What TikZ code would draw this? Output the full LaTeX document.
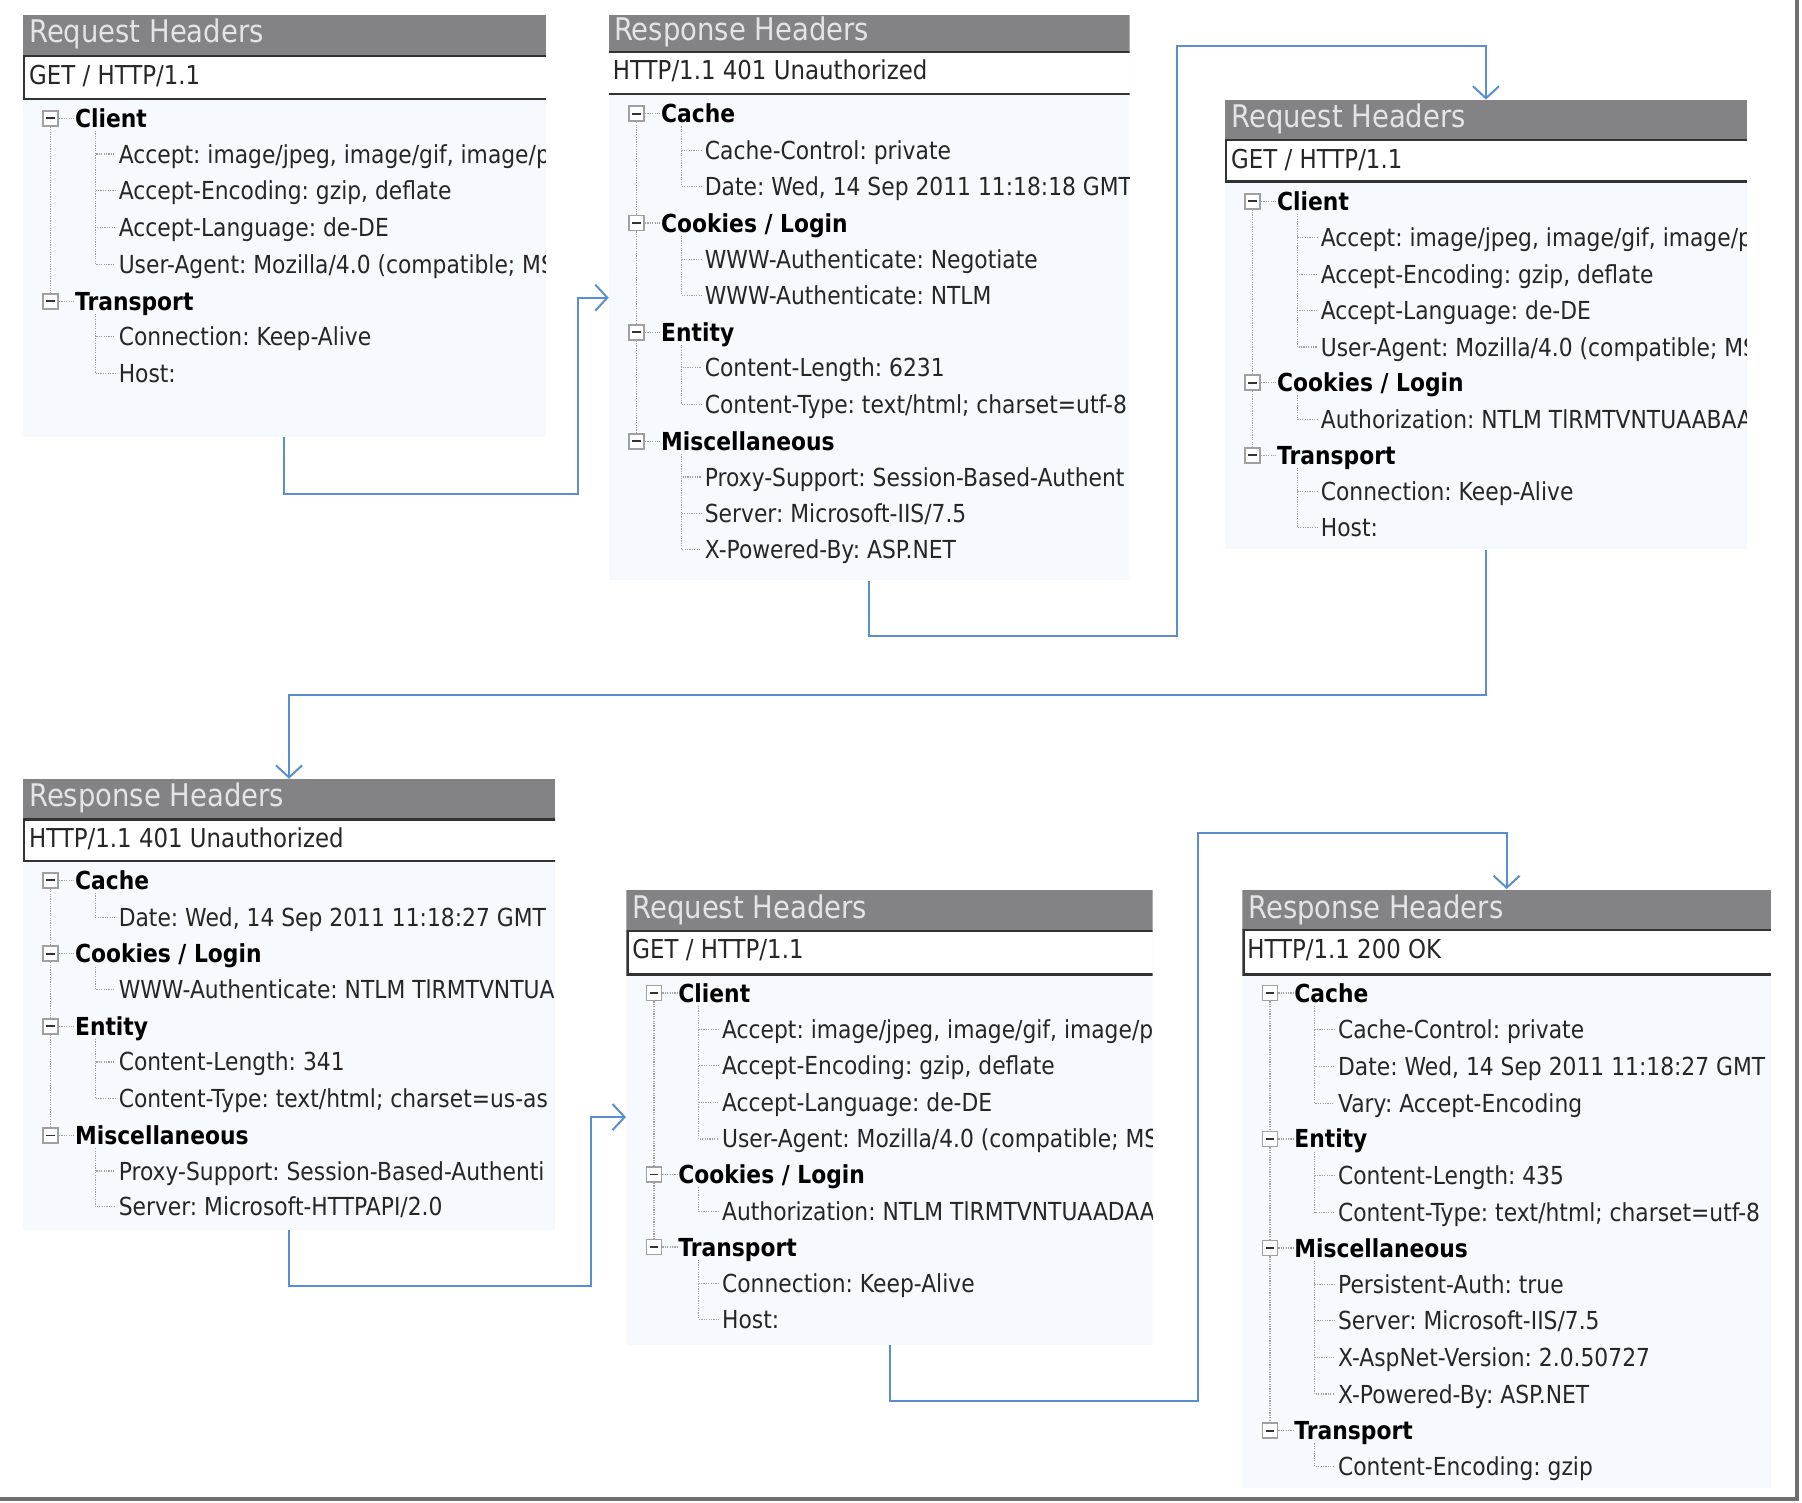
\documentclass[tikz,border=0pt]{standalone}
\usepackage{fontspec}
\setmainfont{DejaVu Sans}[FakeStretch=0.88]
\usepackage{tikz}
\usetikzlibrary{arrows.meta, fit}
\definecolor{panelbg}{HTML}{F6F9FD}
\definecolor{titlegray}{HTML}{838285}
\definecolor{titletext}{HTML}{E4E4E4}
\definecolor{treegray}{HTML}{A0A0A0}
\definecolor{flowblue}{HTML}{5A8ED3}
\definecolor{framegray}{HTML}{6E6E6E}
\frenchspacing

\tikzset{
  panelbody/.style={fill=panelbg, inner sep=0pt},
  titlebar/.style={fill=titlegray, inner sep=0pt},
  titlelabel/.style={anchor=mid west, inner sep=0pt, yshift=-1.2pt, text=titletext, font=\fontsize{15.6}{18}\selectfont},
  linebox/.style={fill=white, draw=black!80, line width=1.1pt, inner sep=0pt},
  linelabel/.style={anchor=mid west, inner sep=0pt, yshift=-1.5pt, text=black!85, font=\fontsize{13}{15}\selectfont},
  grplabel/.style={anchor=mid west, inner sep=0pt, yshift=-1.8pt, font=\fontsize{12.4}{15}\selectfont\bfseries},
  itemlabel/.style={anchor=mid west, inner sep=0pt, yshift=-1.8pt, text=black!85, font=\fontsize{12.4}{15}\selectfont},
  minusbox/.style={draw=treegray, fill=white, line width=0.9pt, minimum size=7.5pt, inner sep=0pt,
    path picture={\draw[black!80, line width=0.9pt] ([xshift=-2.2pt]path picture bounding box.center) -- ([xshift=2.2pt]path picture bounding box.center);}},
  treeline/.style={draw=treegray, line width=0.6pt, dash pattern=on 0.6pt off 0.6pt},
  flow/.style={draw=flowblue, line width=1pt, -{Straight Barb[length=6pt, width=13pt]}},
}

% group heading: name, panel left, y, text
\newcommand{\hgroup}[4]{%
  \node[minusbox] (#1b) at (#2+24,#3) {};
  \draw[treeline] (#1b.east) -- (#2+44,#3);
  \node[grplabel] (#1) at (#2+45,#3) {#4};
}
% entry of a group: name, panel left, group y, y, text
\newcommand{\hitem}[5]{%
  \draw[treeline] (#2+63,#3+11) |- (#2+80,#4);
  \node[itemlabel] (#1) at (#2+83,#4) {#5};
}

\begin{document}
\begin{tikzpicture}[x=0.5746pt, y=-0.5746pt]
    \fill[white] (0,0) rectangle (1568,1307);
    \useasboundingbox (0,0) rectangle (1568,1307);

    % panel 1: request
    \begin{scope}
    \clip (20,13) rectangle (475,380);
    \node[panelbody, fit={(20,13)(475,380)}] (p1) {};
    \node[titlebar, fit={(20,13)(475,48)}] (p1t) {};
    \node[titlelabel] (p1tt) at (25,30) {Request Headers};
    \node[linebox, fit={(21,49)(480,86)}] (p1r) {};
    \node[linelabel] (p1rt) at (25,66) {GET / HTTP/1.1};
    \hgroup{p1a}{20}{103}{Client}
    \hitem{p1a1}{20}{103}{134}{Accept: image/jpeg, image/gif, image/p}
    \hitem{p1a2}{20}{103}{166}{Accept-Encoding: gzip, deflate}
    \hitem{p1a3}{20}{103}{198}{Accept-Language: de-DE}
    \hitem{p1a4}{20}{103}{230}{User-Agent: Mozilla/4.0 (compatible; MS}
    \hgroup{p1b}{20}{262}{Transport}
    \hitem{p1b1}{20}{262}{293}{Connection: Keep-Alive}
    \hitem{p1b2}{20}{262}{325}{Host:}
    \draw[treeline] (p1ab.south) -- (p1bb.north);
    \end{scope}

    % panel 2: response
    \begin{scope}
    \clip (530,13) rectangle (983,505);
    \node[panelbody, fit={(530,13)(983,505)}] (p2) {};
    \node[titlebar, fit={(530,13)(983,44)}] (p2t) {};
    \node[titlelabel] (p2tt) at (534,28) {Response Headers};
    \node[linebox, fit={(524,45)(988,82)}] (p2r) {};
    \node[linelabel] (p2rt) at (533,62) {HTTP/1.1 401 Unauthorized};
    \hgroup{p2a}{530}{99}{Cache}
    \hitem{p2a1}{530}{99}{131}{Cache-Control: private}
    \hitem{p2a2}{530}{99}{162}{Date: Wed, 14 Sep 2011 11:18:18 GMT}
    \hgroup{p2b}{530}{194}{Cookies / Login}
    \hitem{p2b1}{530}{194}{226}{WWW-Authenticate: Negotiate}
    \hitem{p2b2}{530}{194}{257}{WWW-Authenticate: NTLM}
    \hgroup{p2c}{530}{289}{Entity}
    \hitem{p2c1}{530}{289}{320}{Content-Length: 6231}
    \hitem{p2c2}{530}{289}{352}{Content-Type: text/html; charset=utf-8}
    \hgroup{p2d}{530}{384}{Miscellaneous}
    \hitem{p2d1}{530}{384}{415}{Proxy-Support: Session-Based-Authent}
    \hitem{p2d2}{530}{384}{447}{Server: Microsoft-IIS/7.5}
    \hitem{p2d3}{530}{384}{478}{X-Powered-By: ASP.NET}
    \draw[treeline] (p2ab.south) -- (p2bb.north) (p2bb.south) -- (p2cb.north) (p2cb.south) -- (p2db.north);
    \end{scope}

    % panel 3: request
    \begin{scope}
    \clip (1066,87) rectangle (1520,478);
    \node[panelbody, fit={(1066,87)(1520,478)}] (p3) {};
    \node[titlebar, fit={(1066,87)(1520,122)}] (p3t) {};
    \node[titlelabel] (p3tt) at (1071,104) {Request Headers};
    \node[linebox, fit={(1067,122)(1525,158)}] (p3r) {};
    \node[linelabel] (p3rt) at (1071,139) {GET / HTTP/1.1};
    \hgroup{p3a}{1066}{175}{Client}
    \hitem{p3a1}{1066}{175}{207}{Accept: image/jpeg, image/gif, image/p}
    \hitem{p3a2}{1066}{175}{239}{Accept-Encoding: gzip, deflate}
    \hitem{p3a3}{1066}{175}{270}{Accept-Language: de-DE}
    \hitem{p3a4}{1066}{175}{302}{User-Agent: Mozilla/4.0 (compatible; MS}
    \hgroup{p3b}{1066}{333}{Cookies / Login}
    \hitem{p3b1}{1066}{333}{365}{Authorization: NTLM TlRMTVNTUAABAA}
    \hgroup{p3c}{1066}{396}{Transport}
    \hitem{p3c1}{1066}{396}{428}{Connection: Keep-Alive}
    \hitem{p3c2}{1066}{396}{459}{Host:}
    \draw[treeline] (p3ab.south) -- (p3bb.north) (p3bb.south) -- (p3cb.north);
    \end{scope}

    % panel 4: response
    \begin{scope}
    \clip (20,678) rectangle (483,1070);
    \node[panelbody, fit={(20,678)(483,1070)}] (p4) {};
    \node[titlebar, fit={(20,678)(483,713)}] (p4t) {};
    \node[titlelabel] (p4tt) at (25,695) {Response Headers};
    \node[linebox, fit={(21,713)(488,749)}] (p4r) {};
    \node[linelabel] (p4rt) at (25,730) {HTTP/1.1 401 Unauthorized};
    \hgroup{p4a}{20}{766}{Cache}
    \hitem{p4a1}{20}{766}{798}{Date: Wed, 14 Sep 2011 11:18:27 GMT}
    \hgroup{p4b}{20}{830}{Cookies / Login}
    \hitem{p4b1}{20}{830}{861}{WWW-Authenticate: NTLM TlRMTVNTUA}
    \hgroup{p4c}{20}{893}{Entity}
    \hitem{p4c1}{20}{893}{924}{Content-Length: 341}
    \hitem{p4c2}{20}{893}{956}{Content-Type: text/html; charset=us-as}
    \hgroup{p4d}{20}{988}{Miscellaneous}
    \hitem{p4d1}{20}{988}{1019}{Proxy-Support: Session-Based-Authenti}
    \hitem{p4d2}{20}{988}{1050}{Server: Microsoft-HTTPAPI/2.0}
    \draw[treeline] (p4ab.south) -- (p4bb.north) (p4bb.south) -- (p4cb.north) (p4cb.south) -- (p4db.north);
    \end{scope}

    % panel 5: request
    \begin{scope}
    \clip (545,774) rectangle (1003,1170);
    \node[panelbody, fit={(545,774)(1003,1170)}] (p5) {};
    \node[titlebar, fit={(545,774)(1003,809)}] (p5t) {};
    \node[titlelabel] (p5tt) at (550,792) {Request Headers};
    \node[linebox, fit={(546,810)(1008,848)}] (p5r) {};
    \node[linelabel] (p5rt) at (550,827) {GET / HTTP/1.1};
    \hgroup{p5a}{545}{864}{Client}
    \hitem{p5a1}{545}{864}{896}{Accept: image/jpeg, image/gif, image/p}
    \hitem{p5a2}{545}{864}{927}{Accept-Encoding: gzip, deflate}
    \hitem{p5a3}{545}{864}{959}{Accept-Language: de-DE}
    \hitem{p5a4}{545}{864}{991}{User-Agent: Mozilla/4.0 (compatible; MS}
    \hgroup{p5b}{545}{1022}{Cookies / Login}
    \hitem{p5b1}{545}{1022}{1054}{Authorization: NTLM TlRMTVNTUAADAA}
    \hgroup{p5c}{545}{1085}{Transport}
    \hitem{p5c1}{545}{1085}{1117}{Connection: Keep-Alive}
    \hitem{p5c2}{545}{1085}{1148}{Host:}
    \draw[treeline] (p5ab.south) -- (p5bb.north) (p5bb.south) -- (p5cb.north);
    \end{scope}

    % panel 6: response
    \begin{scope}
    \clip (1081,774) rectangle (1541,1295);
    \node[panelbody, fit={(1081,774)(1541,1295)}] (p6) {};
    \node[titlebar, fit={(1081,774)(1541,809)}] (p6t) {};
    \node[titlelabel] (p6tt) at (1086,792) {Response Headers};
    \node[linebox, fit={(1082,809)(1546,848)}] (p6r) {};
    \node[linelabel] (p6rt) at (1085,827) {HTTP/1.1 200 OK};
    \hgroup{p6a}{1081}{864}{Cache}
    \hitem{p6a1}{1081}{864}{896}{Cache-Control: private}
    \hitem{p6a2}{1081}{864}{928}{Date: Wed, 14 Sep 2011 11:18:27 GMT}
    \hitem{p6a3}{1081}{864}{960}{Vary: Accept-Encoding}
    \hgroup{p6b}{1081}{991}{Entity}
    \hitem{p6b1}{1081}{991}{1023}{Content-Length: 435}
    \hitem{p6b2}{1081}{991}{1055}{Content-Type: text/html; charset=utf-8}
    \hgroup{p6c}{1081}{1086}{Miscellaneous}
    \hitem{p6c1}{1081}{1086}{1118}{Persistent-Auth: true}
    \hitem{p6c2}{1081}{1086}{1149}{Server: Microsoft-IIS/7.5}
    \hitem{p6c3}{1081}{1086}{1181}{X-AspNet-Version: 2.0.50727}
    \hitem{p6c4}{1081}{1086}{1213}{X-Powered-By: ASP.NET}
    \hgroup{p6d}{1081}{1245}{Transport}
    \hitem{p6d1}{1081}{1245}{1276}{Content-Encoding: gzip}
    \draw[treeline] (p6ab.south) -- (p6bb.north) (p6bb.south) -- (p6cb.north) (p6cb.south) -- (p6db.north);
    \end{scope}

    % bends of the connectors
    \coordinate (k1) at (503,430);
    \coordinate (k2) at (1024,553);
    \coordinate (k3) at (1024,40);
    \coordinate (k4) at (700,605);
    \coordinate (k5) at (514,1119);
    \coordinate (k6) at (1042,1219);
    \coordinate (k7) at (1042,725);

    % connectors
    \draw[flow] (p1.south) |- (k1) |- (p2.west);
    \draw[flow] (p2.south) |- (k2) -- (k3) -| (p3.north);
    \draw[flow] (p3.south) |- (k4) -| (p4.north);
    \draw[flow] (p4.south) |- (k5) |- (p5.west);
    \draw[flow] (p5.south) |- (k6) -- (k7) -| (p6.north);

    % frame
    \draw[framegray, line width=2pt] (1564,0) -- (1564,1304) -- (0,1304);
\end{tikzpicture}
\end{document}
